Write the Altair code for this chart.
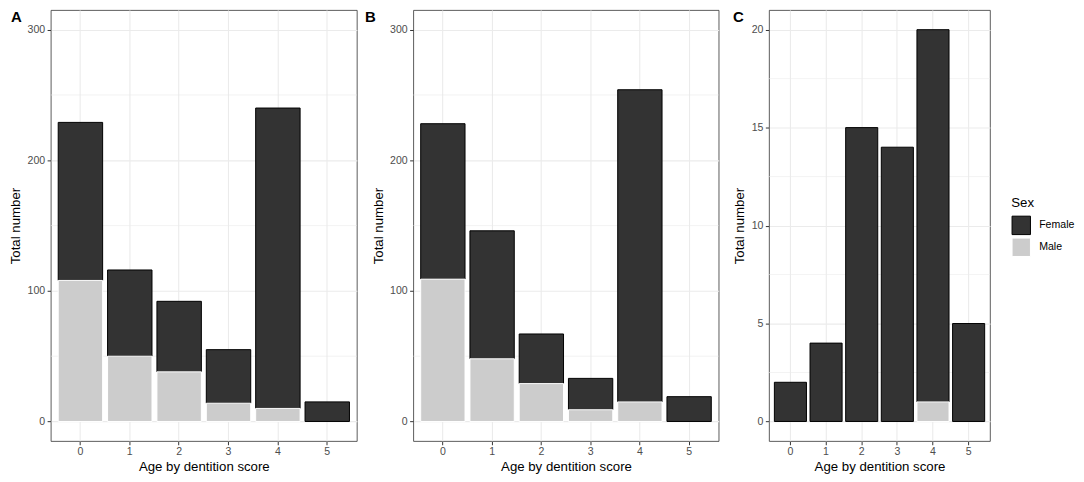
import altair as alt
import pandas as pd

ages = [0, 1, 2, 3, 4, 5]
sexes = ["Female", "Male"]

a_female = [121, 66, 54, 41, 230, 15]
a_male = [108, 50, 38, 14, 10, 0]
b_female = [119, 98, 38, 24, 239, 19]
b_male = [109, 48, 29, 9, 15, 0]
c_female = [2, 4, 15, 14, 19, 5]
c_male = [0, 0, 0, 0, 1, 0]

ab_ticks = [0, 100, 200, 300]
ab_minor = [50, 150, 250]
c_ticks = [0, 5, 10, 15, 20]
c_minor = [2.5, 7.5, 12.5, 17.5]

FONT = "Liberation Sans"
FILL_RANGE = ["#333333", "#CCCCCC"]
STROKE_RANGE = ["#000000", "#FFFFFF"]


def long_form(female, male):
    rows = []
    for a, f, m in zip(ages, female, male):
        if f > 0:
            rows.append({"Age": a, "Sex": "Female", "n": f})
        if m > 0:
            rows.append({"Age": a, "Sex": "Male", "n": m})
    return pd.DataFrame(rows)


def panel(letter, female, male, ticks, minor, domain, width, letter_dx, legend):
    df = long_form(female, male)
    yscale = alt.Scale(domain=domain, nice=False, zero=False)
    yaxis = alt.Axis(values=ticks, labelPadding=2.5, titlePadding=4.3)

    minor_df = pd.DataFrame({"v": minor})
    rules = alt.Chart(minor_df).mark_rule(color="#EBEBEB", strokeWidth=0.6).encode(
        y=alt.Y("v:Q", scale=yscale, axis=yaxis, title="Total number")
    )

    if legend:
        leg = alt.Legend(orient="none", legendX=243.4, legendY=187, title="Sex")
    else:
        leg = None

    bars = alt.Chart(df).mark_bar(strokeWidth=1).encode(
        x=alt.X(
            "Age:O",
            title="Age by dentition score",
            scale=alt.Scale(domain=ages, paddingInner=0.1, paddingOuter=0.15),
            axis=alt.Axis(labelAngle=0, bandPosition=0.5, labelPadding=1.5, titlePadding=3),
        ),
        y=alt.Y("n:Q", stack="zero", scale=yscale, axis=yaxis, title="Total number"),
        fill=alt.Fill("Sex:N", scale=alt.Scale(domain=sexes, range=FILL_RANGE), legend=leg),
        stroke=alt.Stroke("Sex:N", scale=alt.Scale(domain=sexes, range=STROKE_RANGE), legend=leg),
        order=alt.Order("Sex:N", sort="descending"),
    )

    lab = alt.Chart(alt.Data(values=[{"t": letter}])).mark_text(
        font=FONT, fontSize=15, fontWeight="bold", align="left", baseline="alphabetic", color="#000000"
    ).encode(text="t:N", x=alt.value(letter_dx), y=alt.value(11.5))

    return alt.layer(rules, bars, lab).properties(width=width, height=433)


pa = panel("A", a_female, a_male, ab_ticks, ab_minor, [-15, 315], 307.5, -40, False)
pb = panel("B", b_female, b_male, ab_ticks, ab_minor, [-15, 315], 306.8, -48.6, False)
pc = panel("C", c_female, c_male, c_ticks, c_minor, [-1, 21], 222, -36.3, True)

inner = alt.hconcat(pa, pb, spacing=6.2)
chart = (
    alt.hconcat(inner, pc, spacing=12.6)
    .resolve_scale(fill="independent", stroke="independent")
    .resolve_legend(fill="independent", stroke="independent")
    .properties(padding=0, background="#FFFFFF")
    .configure_view(stroke="#333333", strokeWidth=0.8)
    .configure_axis(
        grid=True,
        gridColor="#EBEBEB",
        gridWidth=1.1,
        domain=False,
        tickColor="#333333",
        tickSize=3.7,
        tickWidth=1,
        labelColor="#4D4D4D",
        labelFont=FONT,
        labelFontSize=10.6,
        titleFont=FONT,
        titleFontSize=13.3,
        titleFontWeight="normal",
        titleColor="#000000",
    )
    .configure_legend(
        titleFont=FONT,
        titleFontSize=13.3,
        titleFontWeight="normal",
        titleColor="#000000",
        titlePadding=6,
        labelFont=FONT,
        labelFontSize=10.6,
        labelColor="#000000",
        labelOffset=8,
        symbolType="square",
        symbolSize=342,
        symbolStrokeWidth=1,
        symbolOpacity=1,
        rowPadding=-3.5,
        padding=0,
    )
)

chart.save("out.html", embed_options={"renderer": "svg", "actions": False})
